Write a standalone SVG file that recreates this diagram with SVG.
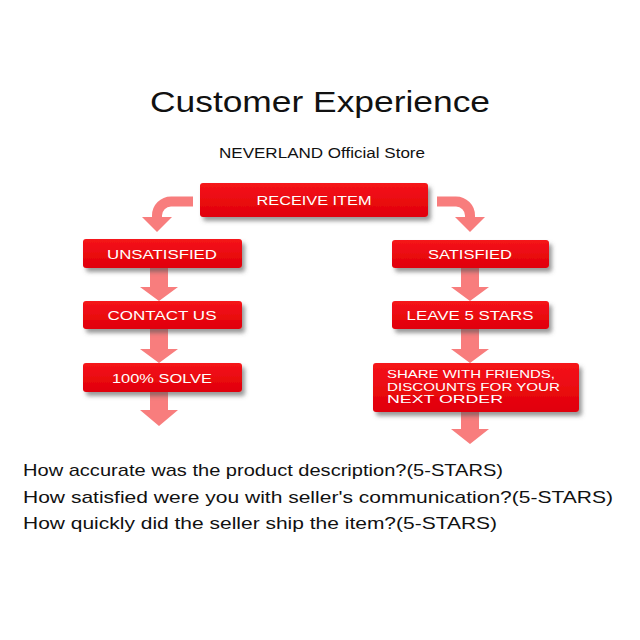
<svg xmlns="http://www.w3.org/2000/svg" width="640" height="640" viewBox="0 0 640 640">
<style>
.t{font-family:"Liberation Sans",Arial,sans-serif;fill:#111}
.b{font-family:"Liberation Sans",Arial,sans-serif;fill:#fff;font-size:13px}
.s{font-size:11.5px}
.box{fill:url(#rg);filter:url(#sh)}
.arr{fill:#f87d7d}
.cs{fill:none;stroke:#f87d7d;stroke-width:10}
</style>
<defs>
<linearGradient id="rg" x1="0" y1="0" x2="0" y2="1">
<stop offset="0" stop-color="#f5141a"/>
<stop offset="1" stop-color="#e00008"/>
</linearGradient>
<filter id="sh" x="-10%" y="-20%" width="125%" height="160%">
<feDropShadow dx="3" dy="4" stdDeviation="2" flood-color="#555" flood-opacity="0.6"/>
</filter>
</defs>
<rect width="640" height="640" fill="#fff"/>
<text class="t" x="320" y="112" font-size="29" text-anchor="middle" textLength="340" lengthAdjust="spacingAndGlyphs">Customer Experience</text>
<text class="t" x="322" y="158" font-size="14" text-anchor="middle" textLength="206" lengthAdjust="spacingAndGlyphs">NEVERLAND Official Store</text>
<g id="connectors">
<path class="cs" d="M193,201.5 H171 A14,14 0 0 0 157,215.5 V218"/>
<polygon class="arr" points="142,217 172,217 157,232"/>
<path class="cs" d="M437,201.5 H456 A14,14 0 0 1 470,215.5 V218"/>
<polygon class="arr" points="455,217 485,217 470,232"/>
<polygon class="arr" points="150,268 168,268 168,287 178,287 159,301 140,287 150,287"/>
<polygon class="arr" points="150,329 168,329 168,349 178,349 159,363 140,349 150,349"/>
<polygon class="arr" points="150,392 168,392 168,410 178,410 159,426 140,410 150,410"/>
<polygon class="arr" points="461,268 479,268 479,287 489,287 470,301 451,287 461,287"/>
<polygon class="arr" points="461,329 479,329 479,349 489,349 470,363 451,349 461,349"/>
<polygon class="arr" points="461,412 479,412 479,429 489,429 470,444 451,429 461,429"/>
</g>
<g id="receive"><rect class="box" x="200" y="183" width="228" height="34" rx="3"/><text class="b" x="314" y="205" text-anchor="middle" textLength="115" lengthAdjust="spacingAndGlyphs">RECEIVE ITEM</text></g>
<g id="unsatisfied"><rect class="box" x="83" y="239" width="159" height="29" rx="3"/><text class="b" x="162" y="259" text-anchor="middle" textLength="110" lengthAdjust="spacingAndGlyphs">UNSATISFIED</text></g>
<g id="contact"><rect class="box" x="83" y="301" width="159" height="28" rx="3"/><text class="b" x="162" y="320" text-anchor="middle" textLength="109" lengthAdjust="spacingAndGlyphs">CONTACT US</text></g>
<g id="solve"><rect class="box" x="83" y="363" width="159" height="29" rx="3"/><text class="b" x="162" y="383" text-anchor="middle" textLength="100" lengthAdjust="spacingAndGlyphs">100% SOLVE</text></g>
<g id="satisfied"><rect class="box" x="392" y="240" width="157" height="28" rx="3"/><text class="b" x="470" y="259" text-anchor="middle" textLength="84" lengthAdjust="spacingAndGlyphs">SATISFIED</text></g>
<g id="leave"><rect class="box" x="392" y="301" width="157" height="28" rx="3"/><text class="b" x="470" y="320" text-anchor="middle" textLength="127" lengthAdjust="spacingAndGlyphs">LEAVE 5 STARS</text></g>
<g id="share"><rect class="box" x="373" y="363" width="206" height="49" rx="3"/>
<text class="b s" x="387" y="378" textLength="168" lengthAdjust="spacingAndGlyphs">SHARE WITH FRIENDS,</text>
<text class="b s" x="387" y="390.5" textLength="173" lengthAdjust="spacingAndGlyphs">DISCOUNTS FOR YOUR</text>
<text class="b s" x="387" y="403" textLength="116" lengthAdjust="spacingAndGlyphs">NEXT ORDER</text></g>
<g id="questions">
<text class="t" x="23" y="476" font-size="17" textLength="480" lengthAdjust="spacingAndGlyphs">How accurate was the product description?(5-STARS)</text>
<text class="t" x="23" y="503" font-size="17" textLength="590" lengthAdjust="spacingAndGlyphs">How satisfied were you with seller's communication?(5-STARS)</text>
<text class="t" x="23" y="529" font-size="17" textLength="474" lengthAdjust="spacingAndGlyphs">How quickly did the seller ship the item?(5-STARS)</text>
</g>
</svg>
